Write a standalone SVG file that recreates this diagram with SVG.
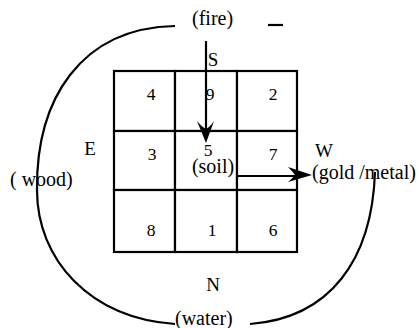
<svg xmlns="http://www.w3.org/2000/svg" width="419" height="328" viewBox="0 0 419 328">
<style>
.ln{fill:none;stroke:#000;stroke-width:2.2}
.cell{fill:#fff;stroke:#000;stroke-width:2.2}
text{font-family:"Liberation Serif","Times New Roman",serif;fill:#000}
.d{font-size:17.5px;text-anchor:middle}
.l{font-size:20px}
.c{font-size:19px;text-anchor:middle}
.ah{fill:#000;stroke:none}
</style>
<rect width="419" height="328" fill="#fff"/>
<g id="grid">
<g id="cell-4"><rect class="cell" x="114" y="71" width="61" height="60"/><text class="d" x="151" y="100">4</text></g>
<g id="cell-9"><rect class="cell" x="175" y="71" width="62" height="60"/><text class="d" x="210" y="100">9</text></g>
<g id="cell-2"><rect class="cell" x="237" y="71" width="60" height="60"/><text class="d" x="273" y="100">2</text></g>
<g id="cell-3"><rect class="cell" x="114" y="131" width="61" height="59"/><text class="d" x="152" y="160">3</text></g>
<g id="cell-5"><rect class="cell" x="175" y="131" width="62" height="59"/><text class="d" x="208" y="156">5</text><text class="l" x="213" y="173" text-anchor="middle">(soil)</text></g>
<g id="cell-7"><rect class="cell" x="237" y="131" width="60" height="59"/><text class="d" x="273" y="160">7</text></g>
<g id="cell-8"><rect class="cell" x="114" y="190" width="61" height="62"/><text class="d" x="151" y="236">8</text></g>
<g id="cell-1"><rect class="cell" x="175" y="190" width="62" height="62"/><text class="d" x="212" y="236">1</text></g>
<g id="cell-6"><rect class="cell" x="237" y="190" width="60" height="62"/><text class="d" x="273" y="236">6</text></g>
</g>
<g id="labels">
<text id="fire" class="l" x="192" y="25">(fire)</text>
<text id="S" class="c" x="213" y="66">S</text>
<text id="E" class="c" x="90" y="155">E</text>
<text id="W" class="c" x="324" y="157">W</text>
<text id="N" class="c" x="213" y="291">N</text>
<text id="wood" class="l" x="10" y="186">( wood)</text>
<text id="metal" class="l" x="312" y="179">(gold /metal)</text>
<text id="water" class="l" x="175" y="325">(water)</text>
</g>
<g id="connectors">
<path class="ln" d="M175,26 C80,28 36,100 37,190 C37,260 90,318 175,324"/>
<path class="ln" d="M375,172 C372,260 330,318 250,324"/>
<path class="ln" d="M268,25 H283"/>
<path class="ln" d="M206,41 V132"/>
<path class="ah" d="M206,143 L197,121 Q202,127 206,129 Q210,127 214,121 Z"/>
<path class="ln" d="M237,176 H300"/>
<path class="ah" d="M312,175 L288,167 Q293,172 295,175 Q293,178 288,182 Z"/>
</g>
</svg>
